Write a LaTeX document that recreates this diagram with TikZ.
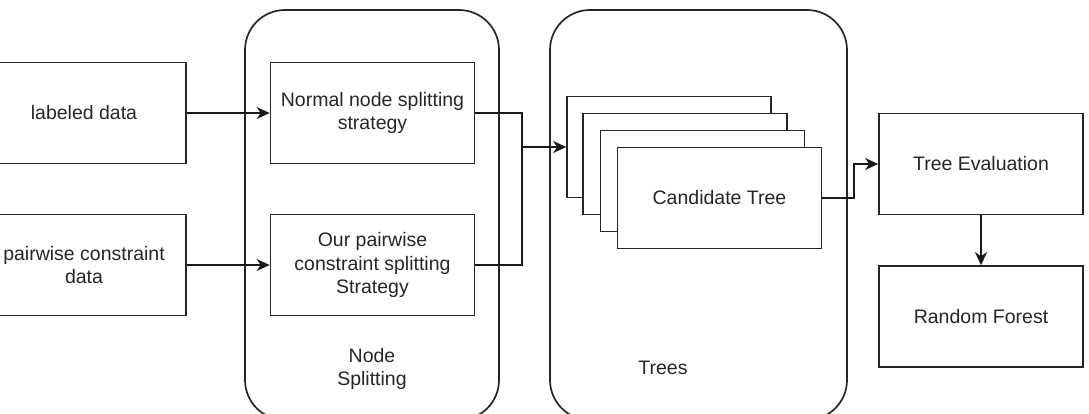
\documentclass[tikz,border=0pt]{standalone}
\usepackage{fontspec}
\setmainfont{Liberation Sans}
\usetikzlibrary{arrows.meta}
\begin{document}
\begin{tikzpicture}[x=1pt,y=-1pt,
  every node/.style={font=\fontsize{19.5}{23.5}\selectfont, text=black!85},
  box/.style={draw=black!85, line width=1.7pt, fill=white, minimum width=204pt, minimum height=101pt, align=center, inner sep=2pt},
  group/.style={draw=black!85, line width=1.7pt, rounded corners=40pt},
  conn/.style={draw=black!90, line width=1.7pt},
  arr/.style={conn, -{Stealth[length=13pt,width=12pt,inset=4pt]}}]
\useasboundingbox (0,0) rectangle (1089,414);
\clip (0,0) rectangle (1089,414);
% containers
\draw[group] (245,10) rectangle (499,420);
\draw[group] (550,10) rectangle (847,420);
\node[align=center] (nslabel) at (372,369) {Node\\Splitting};
\node (treeslabel) at (663,368) {Trees};
% input boxes
\node[box] (lab) at (84,113) {labeled data};
\node[box] (pair) at (84,265) {pairwise constraint\\data};
% splitting boxes
\node[box] (norm) at (372.5,113) {Normal node splitting\\strategy};
\node[box] (ours) at (372.5,265) {Our pairwise\\constraint splitting\\Strategy};
% candidate trees stack
\node[box] (c1) at (669,147) {};
\node[box] (c2) at (685,164) {};
\node[box] (c3) at (702.5,181) {};
\node[box] (c4) at (719.5,198) {Candidate Tree};
% right boxes
\node[box] (te) at (981,164) {Tree Evaluation};
\node[box] (rf) at (981,316.5) {Random Forest};
% connectors
\draw[arr] (lab.east) -- (norm.west);
\draw[arr] (pair.east) -- (ours.west);
\coordinate (j) at (522,147);
\draw[conn] (norm.east) -| (522,147) |- (ours.east);
\draw[arr] (j) -- (c1.west);
\coordinate (k) at (854,198);
\draw[arr] (c4.east) -- (k) |- (te.west);
\draw[arr] (te.south) -- (rf.north);
\end{tikzpicture}
\end{document}
